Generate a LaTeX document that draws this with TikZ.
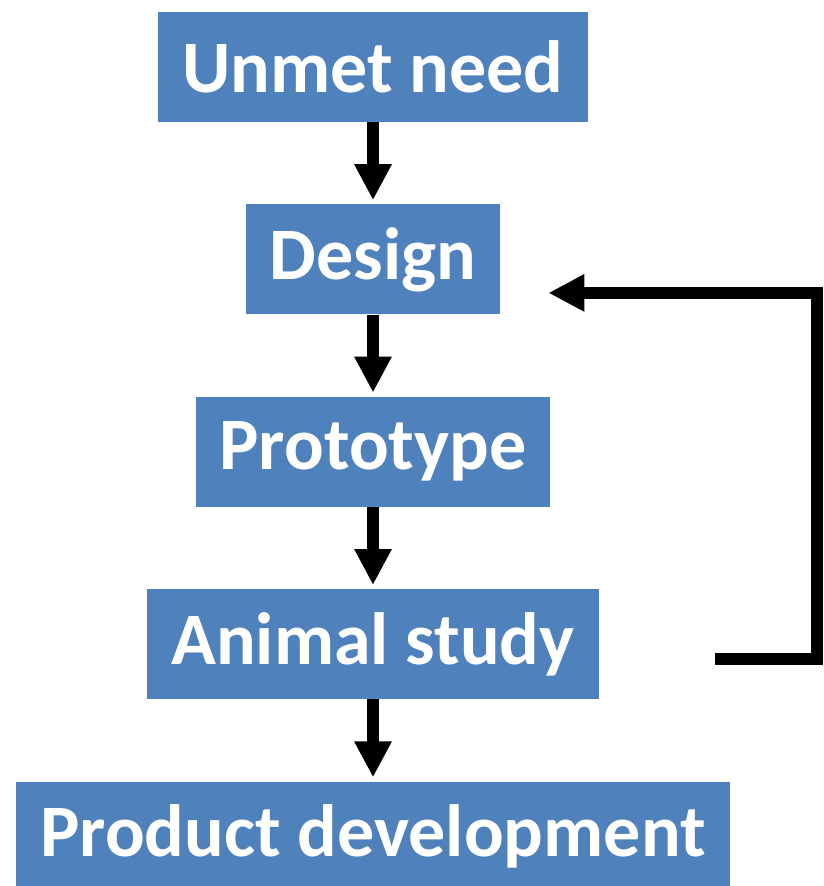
\documentclass[tikz,border=0pt]{standalone}
\usepackage{fontspec}
\setmainfont{Carlito}
\usetikzlibrary{positioning,arrows.meta}
\definecolor{boxblue}{HTML}{4F81BD}

\begin{document}
\begin{tikzpicture}[
    x=1pt, y=1pt,
    node distance=82pt,
    stage/.style={rectangle, fill=boxblue, text=white, font=\fontsize{74}{80}\selectfont\bfseries, minimum height=110pt, inner xsep=24pt, inner ysep=0pt},
    arrow/.style={-{Triangle[width=35pt,length=36pt]}, line width=12pt, shorten >=4pt}
]
    \useasboundingbox (0,0) rectangle (823,-886);

    % Stages
    \node[stage] (need) at (373,-67) {Unmet need};
    \node[stage, below=of need] (design) {Design};
    \node[stage, below=of design] (proto) {Prototype};
    \node[stage, below=of proto] (animal) {Animal study};
    \node[stage, below=of animal] (product) {Product development};

    % Arrows
    \draw[arrow] (need) -- (design);
    \draw[arrow] (design) -- (proto);
    \draw[arrow] (proto) -- (animal);
    \draw[arrow] (animal) -- (product);

    % Feedback loop
    \coordinate (loopstart) at ([xshift=116pt, yshift=-14.5pt]animal.east);
    \coordinate (loopend) at ([xshift=48pt, yshift=-33.5pt]design.east);
    \draw[arrow, shorten >=0pt, line join=miter] (loopstart) -- ++(102,0) |- (loopend);

\end{tikzpicture}
\end{document}
